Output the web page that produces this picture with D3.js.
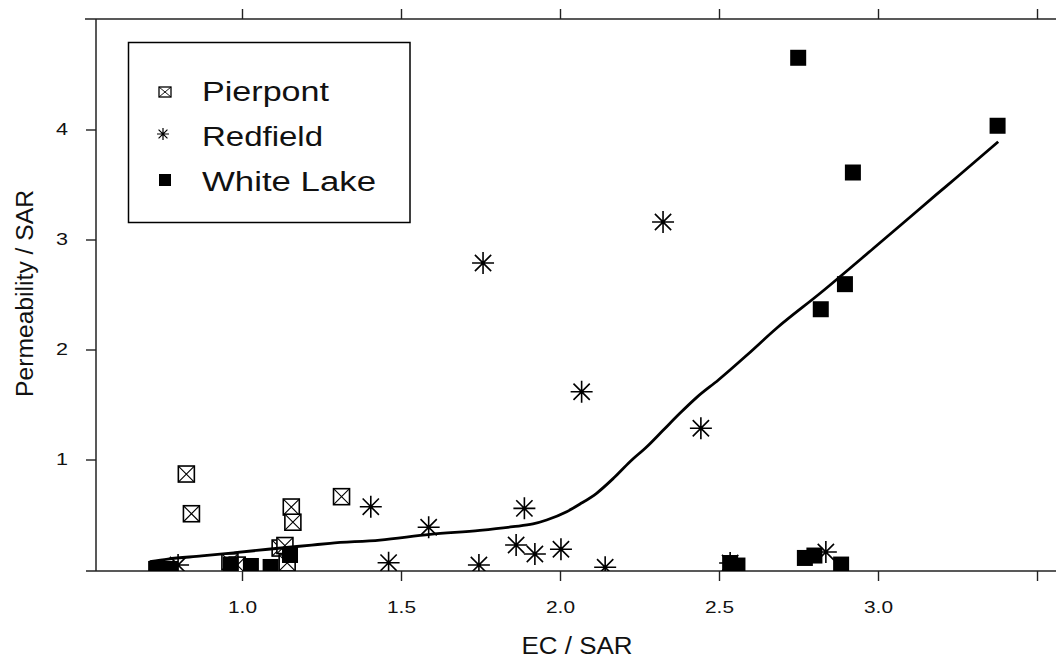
<!DOCTYPE html>
<html>
<head>
<meta charset="utf-8">
<script src="https://cdn.jsdelivr.net/npm/d3@7"></script>
<style>
  html, body { margin: 0; padding: 0; background: #fff; }
  svg { display: block; }
  text { font-family: "Liberation Sans", Arial, sans-serif; fill: #111; }
</style>
</head>
<body>
<svg id="chart" width="1056" height="659"></svg>
<script>
// Permeability / SAR against EC / SAR for three sites, with a smooth fit.

const xTicks = [1.0, 1.5, 2.0, 2.5, 3.0, 3.5];
const xTickLabels = ["1.0", "1.5", "2.0", "2.5", "3.0", ""];
const yTicks = [1, 2, 3, 4];

const seriesNames = ["Pierpont", "Redfield", "White Lake"];

const pierpontEC   = [0.825, 0.841, 1.155, 1.160, 1.313, 0.962, 0.985, 1.120, 1.135, 1.142];
const pierpontPerm = [0.868, 0.507, 0.568, 0.430, 0.662, 0.070, 0.040, 0.195, 0.218, 0.060];

const redfieldEC   = [0.799, 1.405, 1.461, 1.587, 1.745, 1.758, 1.862, 1.888, 1.921, 2.003, 2.068, 2.142, 2.324, 2.443, 2.535, 2.836];
const redfieldPerm = [0.041, 0.571, 0.062, 0.384, 0.041, 2.786, 0.223, 0.556, 0.141, 0.184, 1.616, 0.020, 3.159, 1.284, 0.059, 0.159];

const whiteLakeEC   = [0.730, 0.774, 0.965, 1.028, 1.090, 1.151, 2.535, 2.558, 2.749, 2.770, 2.800, 2.820, 2.884, 2.896, 2.921, 3.376];
const whiteLakePerm = [0.005, 0.005, 0.045, 0.032, 0.023, 0.132, 0.059, 0.036, 4.652, 0.105, 0.127, 2.366, 0.045, 2.594, 3.609, 4.034];

// smoothed fit through all sites
const fitEC   = [0.710, 0.767, 0.873, 0.978, 1.082, 1.219, 1.277, 1.434, 1.591, 1.748, 1.852, 1.915, 1.958, 2.021, 2.063, 2.115, 2.168, 2.220, 2.273, 2.325, 2.377, 2.430, 2.498, 2.590, 2.681, 2.818, 2.985, 3.080, 3.185, 3.247, 3.378];
const fitPerm = [0.071, 0.095, 0.123, 0.153, 0.184, 0.222, 0.238, 0.268, 0.320, 0.356, 0.389, 0.414, 0.450, 0.525, 0.595, 0.693, 0.829, 0.980, 1.116, 1.268, 1.420, 1.565, 1.723, 1.955, 2.193, 2.511, 2.918, 3.152, 3.412, 3.564, 3.889];

const svg = d3.select("#chart");
const plot = { left: 96, right: 1056, top: 19, bottom: 571 };

const x = d3.scaleLinear().domain([0.5409, 3.5597]).range([plot.left, plot.right]);
const y = d3.scaleLinear().domain([-0.0136, 5.0045]).range([plot.bottom, plot.top]);

const axisColor = "#222";

// clip region for the marks
svg.append("defs").append("clipPath").attr("id", "plotClip")
  .append("rect")
  .attr("x", plot.left).attr("y", plot.top)
  .attr("width", plot.right - plot.left).attr("height", plot.bottom - plot.top);

// ---- axes ----
const gBottom = svg.append("g").attr("transform", `translate(0,${plot.bottom})`)
  .call(d3.axisBottom(x).tickValues(xTicks).tickSize(10).tickSizeOuter(0)
        .tickFormat((d, i) => xTickLabels[i]));
gBottom.select(".domain").remove();
gBottom.selectAll(".tick line").attr("stroke", axisColor).attr("stroke-width", 1.4);
gBottom.selectAll(".tick text")
  .attr("y", 42).attr("dy", 0)
  .style("font-size", "17px")
  .attr("textLength", 29).attr("lengthAdjust", "spacingAndGlyphs");

const gTop = svg.append("g").attr("transform", `translate(0,${plot.top})`)
  .call(d3.axisTop(x).tickValues(xTicks).tickSize(10).tickSizeOuter(0).tickFormat(""));
gTop.select(".domain").remove();
gTop.selectAll(".tick line").attr("stroke", axisColor).attr("stroke-width", 1.4);

const gLeft = svg.append("g").attr("transform", `translate(${plot.left},0)`)
  .call(d3.axisLeft(y).tickValues(yTicks).tickSize(10).tickSizeOuter(0).tickPadding(18)
        .tickFormat(d3.format("d")));
gLeft.select(".domain").remove();
gLeft.selectAll(".tick line").attr("stroke", axisColor).attr("stroke-width", 1.4);
gLeft.selectAll(".tick text")
  .style("font-size", "17px")
  .attr("textLength", 12).attr("lengthAdjust", "spacingAndGlyphs");

// frame lines
const frame = svg.append("g").attr("stroke", axisColor).attr("stroke-width", 1.5).attr("fill", "none");
frame.append("line").attr("x1", plot.left - 11).attr("x2", plot.right).attr("y1", plot.top).attr("y2", plot.top);
frame.append("line").attr("x1", plot.left - 10).attr("x2", plot.right).attr("y1", plot.bottom).attr("y2", plot.bottom);
frame.append("line").attr("x1", plot.left).attr("x2", plot.left).attr("y1", plot.top).attr("y2", plot.bottom);

// ---- axis titles ----
svg.append("text")
  .attr("x", 577).attr("y", 654)
  .attr("text-anchor", "middle")
  .style("font-size", "23px")
  .attr("textLength", 111).attr("lengthAdjust", "spacingAndGlyphs")
  .text("EC / SAR");

svg.append("text")
  .attr("transform", "translate(33,293.5) rotate(-90)")
  .attr("text-anchor", "middle")
  .style("font-size", "23px")
  .attr("textLength", 207).attr("lengthAdjust", "spacingAndGlyphs")
  .text("Permeability / SAR");

// ---- marker shapes ----
function boxX(g, cx, cy, w, h, sw) {
  g.append("rect").attr("x", cx - w / 2).attr("y", cy - h / 2).attr("width", w).attr("height", h)
    .attr("fill", "#fff").attr("stroke", "#000").attr("stroke-width", sw);
  g.append("path")
    .attr("d", `M${cx - w / 2},${cy - h / 2}L${cx + w / 2},${cy + h / 2}M${cx + w / 2},${cy - h / 2}L${cx - w / 2},${cy + h / 2}`)
    .attr("stroke", "#000").attr("stroke-width", sw * 0.7).attr("fill", "none");
}
function star(g, cx, cy, r, sw) {
  const d = r * 0.74;
  g.append("path")
    .attr("d", `M${cx - r},${cy}L${cx + r},${cy}M${cx},${cy - r}L${cx},${cy + r}` +
               `M${cx - d},${cy - d}L${cx + d},${cy + d}M${cx + d},${cy - d}L${cx - d},${cy + d}`)
    .attr("stroke", "#000").attr("stroke-width", sw).attr("fill", "none");
}
function filledSquare(g, cx, cy, w, h) {
  g.append("rect").attr("x", cx - w / 2).attr("y", cy - h / 2).attr("width", w).attr("height", h)
    .attr("fill", "#000");
}

// ---- points ----
const marks = svg.append("g").attr("clip-path", "url(#plotClip)");

const gP = marks.append("g");
pierpontEC.forEach((v, i) => boxX(gP, x(v), y(pierpontPerm[i]), 16, 16, 1.6));

const gR = marks.append("g");
redfieldEC.forEach((v, i) => star(gR, x(v), y(redfieldPerm[i]), 11, 1.6));

const gW = marks.append("g");
whiteLakeEC.forEach((v, i) => filledSquare(gW, x(v), y(whiteLakePerm[i]), 16, 16));

// ---- smooth fit ----
const fitLine = d3.line().x(d => x(d[0])).y(d => y(d[1])).curve(d3.curveMonotoneX);
marks.append("path")
  .datum(fitEC.map((v, i) => [v, fitPerm[i]]))
  .attr("d", fitLine)
  .attr("fill", "none").attr("stroke", "#000").attr("stroke-width", 2.8)
  .attr("stroke-linejoin", "round");

// ---- legend ----
const legend = svg.append("g");
legend.append("rect")
  .attr("x", 128.5).attr("y", 42.5).attr("width", 281.5).attr("height", 180)
  .attr("fill", "none").attr("stroke", "#000").attr("stroke-width", 1.5);

const legendBaselines = [100.5, 145.5, 190.5];
const legendWidths = [127, 121, 174];
seriesNames.forEach((name, i) => {
  legend.append("text")
    .attr("x", 202).attr("y", legendBaselines[i])
    .style("font-size", "27px")
    .attr("textLength", legendWidths[i]).attr("lengthAdjust", "spacingAndGlyphs")
    .text(name);
});
boxX(legend, 165, 92, 12, 10, 1.3);
star(legend, 163, 134, 6, 1.2);
filledSquare(legend, 165, 180, 12, 12);
</script>
</body>
</html>
